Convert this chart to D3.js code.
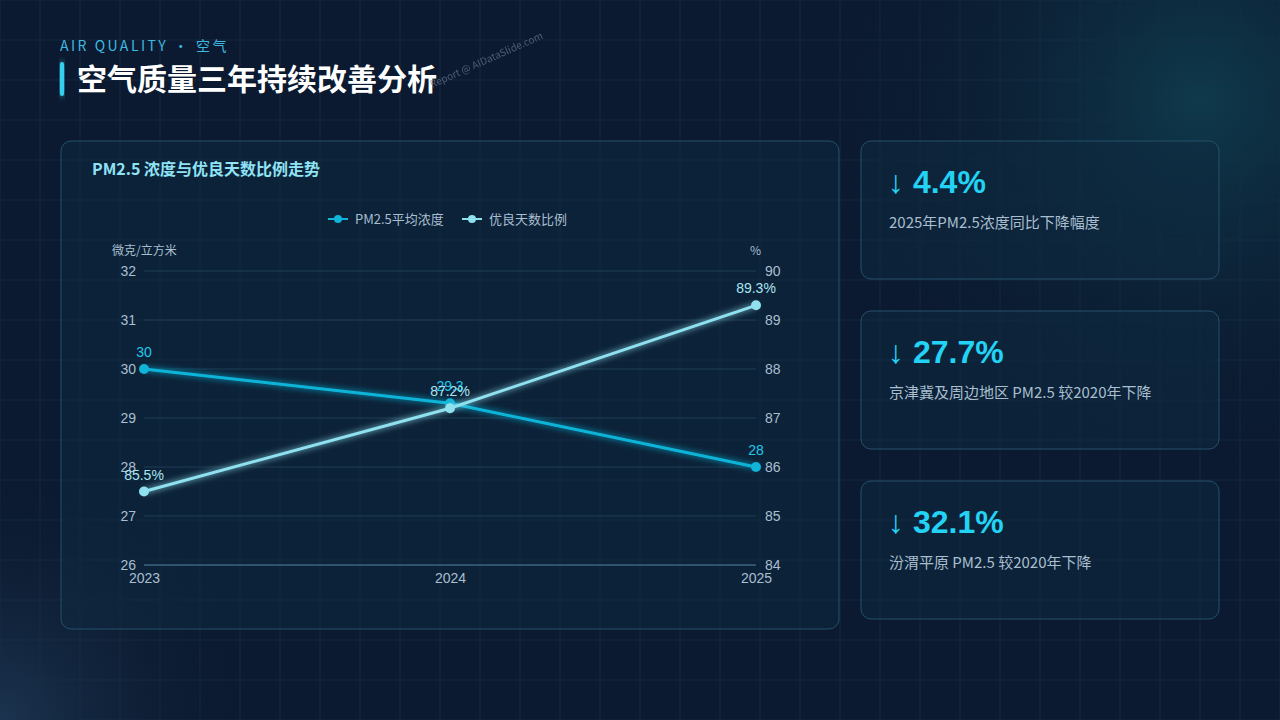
<!DOCTYPE html><html><head><meta charset="utf-8"><script src="https://cdn.jsdelivr.net/npm/d3@7"></script>
<style>body{margin:0;background:#0b1a30;font-family:"Noto Sans CJK SC","Noto Sans",sans-serif}</style></head><body>
<svg id="c" width="1280" height="720"></svg>
<script>
const years=["2023","2024","2025"];
const pm25=[30,29.3,28];
const goodRatio=[85.5,87.2,89.3];
const leftTicks=[26,27,28,29,30,31,32];
const rightTicks=[84,85,86,87,88,89,90];
const kpiValues=["↓ 4.4%","↓ 27.7%","↓ 32.1%"];
const kpiLabels=["2025年PM2.5浓度同比下降幅度","京津冀及周边地区 PM2.5 较2020年下降","汾渭平原 PM2.5 较2020年下降"];

const svg=d3.select("#c");
const defs=svg.append("defs");
const bg=defs.append("radialGradient").attr("id","bg").attr("gradientUnits","userSpaceOnUse").attr("cx",1200).attr("cy",100).attr("r",380);
bg.append("stop").attr("offset","0").attr("stop-color","#0f3a4c");
bg.append("stop").attr("offset","1").attr("stop-color","#0b1a30").attr("stop-opacity",0);
const bg2=defs.append("radialGradient").attr("id","bg2").attr("gradientUnits","userSpaceOnUse").attr("cx",0).attr("cy",720).attr("r",260);
bg2.append("stop").attr("offset","0").attr("stop-color","#1c3450");
bg2.append("stop").attr("offset","1").attr("stop-color","#0b1a30").attr("stop-opacity",0);
const gl=defs.append("filter").attr("id","glow").attr("x","-20%").attr("y","-50%").attr("width","140%").attr("height","200%");
gl.append("feGaussianBlur").attr("stdDeviation",3).attr("result","b");
const m=gl.append("feMerge");m.append("feMergeNode").attr("in","b");m.append("feMergeNode").attr("in","SourceGraphic");
svg.append("rect").attr("width",1280).attr("height",720).attr("fill","#0b1a30");
svg.append("rect").attr("width",1280).attr("height",720).attr("fill","url(#bg)");
svg.append("rect").attr("width",1280).attr("height",720).attr("fill","url(#bg2)");
const grid=svg.append("g").attr("stroke","#1a3048").attr("stroke-width",1).attr("opacity",0.6);
d3.range(0,1281,40).forEach(x=>grid.append("line").attr("x1",x).attr("x2",x).attr("y1",0).attr("y2",720));
d3.range(0,721,40).forEach(y=>grid.append("line").attr("y1",y).attr("y2",y).attr("x1",0).attr("x2",1280));

svg.append("text").attr("x",60).attr("y",51).attr("fill","#3fb9e0").attr("font-size",14).attr("letter-spacing",2.5).text("AIR QUALITY · 空气");
svg.append("rect").attr("x",60).attr("y",62).attr("width",4).attr("height",34).attr("rx",2).attr("fill","#34d0f0").attr("filter","url(#glow)");
svg.append("text").attr("x",77).attr("y",90).attr("fill","#fff").attr("font-size",30).attr("font-weight",700).text("空气质量三年持续改善分析");
svg.append("text").attr("transform","translate(432,88) rotate(-24)").attr("fill","#6a7a8c").attr("font-size",10).attr("opacity",0.7).text("Report @ AIDataSlide.com");

svg.append("rect").attr("x",61).attr("y",141).attr("width",778).attr("height",488).attr("rx",10).attr("fill","#0e2a40").attr("fill-opacity",0.55).attr("stroke","#24506a");
svg.append("text").attr("x",92).attr("y",175).attr("fill","#8fe3f5").attr("font-size",16).attr("font-weight",700).text("PM2.5 浓度与优良天数比例走势");

const x=d3.scalePoint().domain(years).range([144,756]);
const yl=d3.scaleLinear().domain([26,32]).range([565,271]);
const yr=d3.scaleLinear().domain([84,90]).range([565,271]);
const g=svg.append("g");
leftTicks.forEach(t=>{g.append("line").attr("x1",144).attr("x2",756).attr("y1",yl(t)).attr("y2",yl(t)).attr("stroke","#1d3c55").attr("stroke-width",1);});
g.append("line").attr("x1",144).attr("x2",756).attr("y1",565).attr("y2",565).attr("stroke","#4a7a94");
const la=svg.append("g").attr("transform","translate(144,0)").call(d3.axisLeft(yl).tickValues(leftTicks).tickFormat(d3.format("d")).tickSize(0).tickPadding(8));
const ra=svg.append("g").attr("transform","translate(756,0)").call(d3.axisRight(yr).tickValues(rightTicks).tickFormat(d3.format("d")).tickSize(0).tickPadding(9));
const xa=svg.append("g").attr("transform","translate(0,565)").call(d3.axisBottom(x).tickSize(0).tickPadding(8));
[la,ra,xa].forEach(a=>{a.select(".domain").remove();a.selectAll("text").attr("fill","#a9bfd0").attr("font-size",14).attr("font-family","Liberation Sans,Arial");});
svg.append("text").attr("x",112).attr("y",255).attr("fill","#a9bfd0").attr("font-size",12).text("微克/立方米");
svg.append("text").attr("x",750).attr("y",255).attr("fill","#a9bfd0").attr("font-size",12).text("%");

const series=[{v:pm25,y:yl,c:"#0fb4d8",lab:d=>String(d),lc:"#22c8ee"},{v:goodRatio,y:yr,c:"#8fe1f0",lab:d=>d+"%",lc:"#a9e6f2"}];
series.forEach(s=>{
  const line=d3.line().x((d,i)=>x(years[i])).y(d=>s.y(d));
  svg.append("path").datum(s.v).attr("d",line).attr("fill","none").attr("stroke",s.c).attr("stroke-width",3).attr("filter","url(#glow)");
  s.v.forEach((d,i)=>{
    svg.append("circle").attr("cx",x(years[i])).attr("cy",s.y(d)).attr("r",5).attr("fill",s.c);
    svg.append("text").attr("x",x(years[i])).attr("y",s.y(d)-12).attr("text-anchor","middle").attr("fill",s.lc).attr("font-size",14).attr("font-family","Liberation Sans,Arial").text(s.lab(d));
  });
});
const leg=[{n:"PM2.5平均浓度",c:"#0fb4d8",x:328},{n:"优良天数比例",c:"#8fe1f0",x:462}];
leg.forEach(l=>{
  svg.append("line").attr("x1",l.x).attr("x2",l.x+20).attr("y1",219).attr("y2",219).attr("stroke",l.c).attr("stroke-width",2);
  svg.append("circle").attr("cx",l.x+10).attr("cy",219).attr("r",4).attr("fill",l.c);
  svg.append("text").attr("x",l.x+27).attr("y",224).attr("fill","#a9bfd0").attr("font-size",13).text(l.n);
});

kpiValues.forEach((v,i)=>{
  const y0=141+i*170;
  svg.append("rect").attr("x",861).attr("y",y0).attr("width",358).attr("height",138).attr("rx",10).attr("fill","#0e2a40").attr("fill-opacity",0.55).attr("stroke","#24506a");
  svg.append("text").attr("x",888).attr("y",y0+52).attr("fill","#22d3f5").attr("font-size",32).attr("font-weight",700).attr("font-family","Liberation Sans,Arial").text(v);
  svg.append("text").attr("x",889).attr("y",y0+87).attr("fill","#a9bfd0").attr("font-size",15).text(kpiLabels[i]);
});
</script></body></html>
